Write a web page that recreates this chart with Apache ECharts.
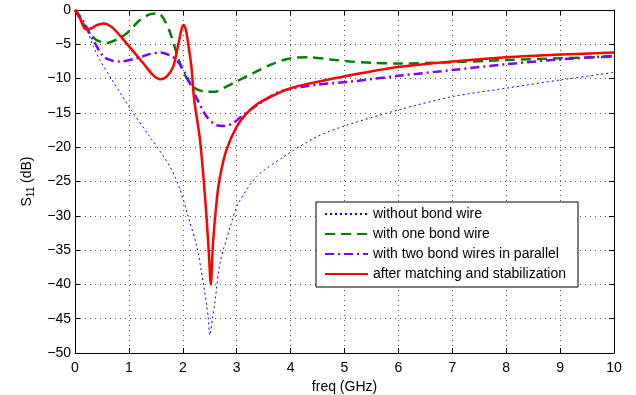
<!DOCTYPE html>
<html>
<head>
<meta charset="utf-8">
<script src="https://cdn.jsdelivr.net/npm/echarts@6/dist/echarts.min.js"></script>
<style>
  html, body { margin: 0; padding: 0; background: #fff; }
  #chart { width: 636px; height: 395px; }
</style>
</head>
<body>
<div id="chart"></div>
<script>
// S11 vs frequency (freq in GHz, S11 in dB)
const seriesNames = [
  "without bond wire",
  "with one bond wire",
  "with two bond wires in parallel",
  "after matching and stabilization",
];

const noWire = [
  [0, 0], [0.1, -1.3], [0.22, -2.9], [0.34, -5.3], [0.46, -7.3], [0.65, -9.7],
  [1.02, -14.3], [1.39, -18.5], [1.76, -22.8], [1.95, -26.2], [2.1, -30.1],
  [2.26, -34.5], [2.38, -39.8], [2.47, -44.7], [2.5, -47.4], [2.55, -45],
  [2.6, -42.3], [2.69, -36.9], [2.88, -31.6], [3.03, -28.2], [3.37, -24.3],
  [3.87, -21.4], [4.48, -18.5], [5.04, -16.8], [6.03, -14.5], [7.02, -12.6],
  [8, -11.4], [9, -10.2], [10, -9.1],
];

const oneWire = [
  [0, 0], [0.1, -1.2], [0.19, -2.4], [0.3, -3.6], [0.4, -4.4], [0.59, -4.8],
  [0.8, -4.2], [0.96, -3.4], [1.2, -1.5], [1.4, -0.6], [1.55, -0.5],
  [1.66, -1.5], [1.76, -3.2], [1.85, -5.4], [1.95, -7.8], [2.07, -9.9],
  [2.2, -11.3], [2.44, -11.9], [2.6, -11.9], [2.75, -11.4], [3.0, -10.4],
  [3.31, -9.2], [3.62, -8.0], [3.87, -7.3], [4.1, -6.95], [4.36, -6.9],
  [4.73, -7.2], [5.1, -7.5], [5.5, -7.7], [6.0, -7.8], [7.0, -7.6],
  [8, -7.3], [9, -7.05], [10, -6.8],
];

const twoWires = [
  [0, 0], [0.1, -1.0], [0.19, -2.2], [0.34, -4.4], [0.53, -6.8], [0.7, -7.4],
  [0.83, -7.5], [1.14, -7.05], [1.4, -6.4], [1.58, -6.2], [1.76, -6.6],
  [1.86, -7.1], [1.95, -8.0], [2.07, -9.6], [2.26, -12.9], [2.44, -15.5],
  [2.63, -16.8], [2.78, -16.9], [2.95, -16.4], [3.12, -15.3], [3.43, -13.6],
  [3.8, -11.9], [4.48, -10.9], [5.1, -10.45], [6, -9.6], [7, -8.75],
  [8, -7.9], [9, -7.2], [10, -6.7],
];

const matched = [
  [0, 0], [0.09, -1.2], [0.2, -2.8], [0.3, -2.7], [0.4, -2.2], [0.53, -1.95],
  [0.7, -2.6], [0.96, -4.9], [1.27, -7.8], [1.45, -9.5], [1.58, -10.1],
  [1.7, -9.7], [1.82, -8.3], [1.92, -4.9], [1.98, -2.7], [2.02, -2.2],
  [2.06, -3.0], [2.1, -4.9], [2.16, -8.3], [2.21, -13], [2.32, -19],
  [2.42, -28], [2.48, -35], [2.52, -40], [2.56, -34], [2.63, -27.7],
  [2.69, -24.3], [2.81, -20.4], [3.0, -17], [3.18, -15.1], [3.4, -13.6],
  [3.59, -12.8], [3.8, -12.0], [4.0, -11.4], [4.36, -10.7], [5.1, -9.5],
  [6, -8.3], [7, -7.5], [8, -6.9], [9, -6.5], [10, -6.2],
];

const font = "Liberation Sans, Arial, sans-serif";
const minus = (v) => String(v).replace("-", "\u2212");

const gridLine = { show: true, lineStyle: { color: "#555", type: [1, 4], width: 1 } };
const box = { show: true, onZero: false, lineStyle: { color: "#000", width: 1 } };
const ticks = { show: true, inside: true, length: 5, lineStyle: { color: "#000" } };

const xBase = { type: "value", min: 0, max: 10, interval: 1, axisLine: box, axisTick: ticks };
const yBase = { type: "value", min: -50, max: 0, interval: 5, axisLine: box, axisTick: ticks };

const chart = echarts.init(document.getElementById("chart"));
chart.setOption({
  animation: false,
  textStyle: { fontFamily: font },
  grid: { left: 75, right: 22, top: 10, bottom: 42, outerBoundsMode: "none", containLabel: false },
  xAxis: [
    {
      ...xBase,
      position: "bottom",
      splitLine: gridLine,
      axisLabel: { color: "#000", fontSize: 14, margin: 8, fontFamily: font },
      name: "freq (GHz)",
      nameLocation: "middle",
      nameGap: 24,
      nameTextStyle: { color: "#000", fontSize: 14, fontFamily: font },
    },
    { ...xBase, position: "top", splitLine: { show: false }, axisLabel: { show: false } },
  ],
  yAxis: [
    {
      ...yBase,
      position: "left",
      splitLine: gridLine,
      axisLabel: { color: "#000", fontSize: 14, margin: 4, fontFamily: font, formatter: minus },
      name: "S{sub|11} (dB)",
      nameLocation: "middle",
      nameRotate: 90,
      nameGap: 36,
      nameTextStyle: {
        color: "#000", fontSize: 14, fontFamily: font,
        rich: { sub: { fontSize: 10, fontFamily: font, color: "#000", padding: [8, 0, 0, 0] } },
      },
    },
    { ...yBase, position: "right", splitLine: { show: false }, axisLabel: { show: false } },
  ],
  legend: {
    orient: "vertical",
    left: 316,
    top: 202,
    backgroundColor: "#fff",
    borderColor: "#000",
    borderWidth: 1,
    borderRadius: 0,
    padding: [5, 12, 6, 8],
    itemWidth: 43,
    itemHeight: 14,
    itemGap: 6,
    itemStyle: { opacity: 0 },
    textStyle: { color: "#000", fontSize: 14, fontFamily: font },
    data: seriesNames,
  },
  series: [
    {
      name: seriesNames[0], type: "line", data: noWire, symbol: "none", smooth: 0.3,
      lineStyle: { color: "#0000ff", width: 1, type: [2, 3] },
      itemStyle: { color: "#0000ff" },
    },
    {
      name: seriesNames[1], type: "line", data: oneWire, symbol: "none", smooth: 0.3,
      lineStyle: { color: "#008000", width: 2.5, type: [10, 6] },
      itemStyle: { color: "#008000" },
    },
    {
      name: seriesNames[2], type: "line", data: twoWires, symbol: "none", smooth: 0.3,
      lineStyle: { color: "#7f00ff", width: 2.5, type: [9, 4, 2, 4] },
      itemStyle: { color: "#7f00ff" },
    },
    {
      name: seriesNames[3], type: "line", data: matched, symbol: "none", smooth: 0.3,
      lineStyle: { color: "#ff0000", width: 2.5 },
      itemStyle: { color: "#ff0000" },
    },
  ],
});
</script>
</body>
</html>
